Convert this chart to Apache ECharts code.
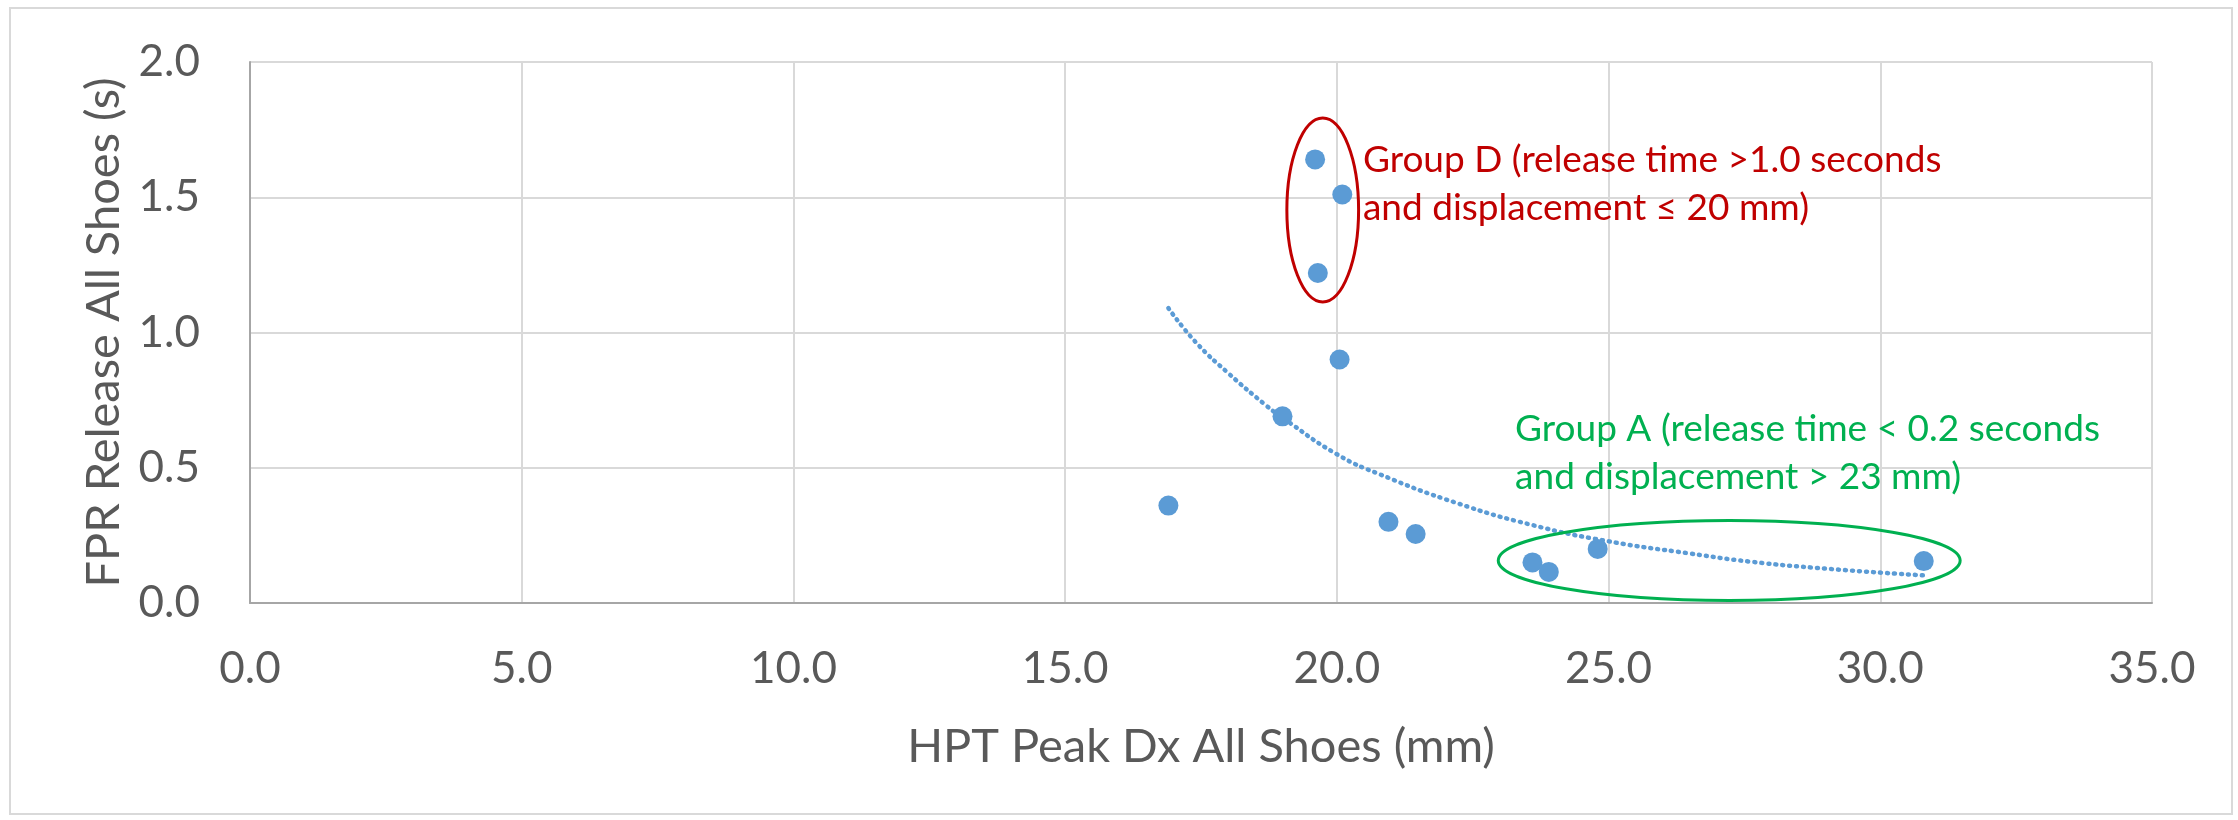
<!DOCTYPE html>
<html>
<head>
<meta charset="utf-8">
<script src="https://cdn.jsdelivr.net/npm/echarts@6/dist/echarts.min.js"></script>
<style>
  html, body { margin: 0; padding: 0; background: #fff; }
  #main { width: 2238px; height: 820px; }
</style>
</head>
<body>
<div id="main"></div>
<script>
// one point per shoe: HPT peak displacement (mm) vs FPR release time (s)
var dxAll      = [16.9, 19.0, 20.05, 19.6, 20.1, 19.65, 20.95, 21.45, 23.6, 23.9, 24.8, 30.8];
var releaseAll = [0.36, 0.69, 0.90, 1.64, 1.51, 1.22, 0.30, 0.255, 0.15, 0.115, 0.20, 0.155];

// dotted trendline
var trendX = [16.9, 17.4, 18.0, 18.7, 19.0, 20.0, 20.8, 22.2, 23.6, 25.0, 26.5, 27.6, 29.0, 30.8];
var trendY = [1.09, 0.965, 0.85, 0.73, 0.685, 0.55, 0.475, 0.37, 0.288, 0.228, 0.183, 0.153, 0.127, 0.102];

// axis ticks
var xTicks = [0, 5, 10, 15, 20, 25, 30, 35];
var yTicks = [0, 0.5, 1.0, 1.5, 2.0];

var groupD = ['Group D (release time >1.0 seconds', 'and displacement \u2264 20 mm)'];
var groupA = ['Group A (release time < 0.2 seconds', 'and displacement > 23 mm)'];

var font = 'Lato, "Open Sans", sans-serif';
var grey = '#595959';
var blue = '#5B9BD5';
var red = '#C00000';
var green = '#00B050';

var points = dxAll.map(function (x, i) { return [x, releaseAll[i]]; });
var trend = trendX.map(function (x, i) { return [x, trendY[i]]; });

var chart = echarts.init(document.getElementById('main'));

chart.setOption({
    animation: false,
    backgroundColor: '#fff',
    grid: { left: 250, right: 86, top: 62, bottom: 217 },
    xAxis: {
        type: 'value',
        min: xTicks[0],
        max: xTicks[xTicks.length - 1],
        interval: xTicks[1] - xTicks[0],
        name: 'HPT Peak Dx All Shoes (mm)',
        nameLocation: 'middle',
        nameGap: 120,
        nameTextStyle: { fontFamily: font, fontSize: 47, color: grey },
        axisLine: { lineStyle: { color: '#a6a6a6', width: 2 } },
        axisTick: { show: false },
        axisLabel: {
            margin: 44,
            fontFamily: font, fontSize: 44, color: grey,
            formatter: function (v) { return v.toFixed(1); }
        },
        splitLine: { show: true, lineStyle: { color: '#d9d9d9', width: 2 } }
    },
    yAxis: {
        type: 'value',
        min: yTicks[0],
        max: yTicks[yTicks.length - 1],
        interval: yTicks[1] - yTicks[0],
        name: 'FPR Release All Shoes (s)',
        nameLocation: 'middle',
        nameGap: 117,
        nameTextStyle: { fontFamily: font, fontSize: 47, color: grey },
        axisLine: { show: true, lineStyle: { color: '#a6a6a6', width: 2 } },
        axisTick: { show: false },
        axisLabel: {
            margin: 50,
            fontFamily: font, fontSize: 44, color: grey,
            formatter: function (v) { return v.toFixed(1); }
        },
        splitLine: { show: true, lineStyle: { color: '#d9d9d9', width: 2 } }
    },
    series: [
        {
            name: 'trend',
            type: 'line',
            data: trend,
            smooth: true,
            symbol: 'none',
            z: 2,
            lineStyle: { color: blue, width: 4.5, type: [1, 6], cap: 'round' }
        },
        {
            name: 'shoes',
            type: 'scatter',
            data: points,
            symbolSize: 20,
            z: 3,
            itemStyle: { color: blue, opacity: 1 }
        }
    ]
});

// annotation ovals and notes, placed in data space
function oval(cx, cy, rx, ry, color) {
    var c = chart.convertToPixel({ gridIndex: 0 }, [cx, cy]);
    var e = chart.convertToPixel({ gridIndex: 0 }, [cx + rx, cy + ry]);
    return {
        type: 'ellipse',
        shape: { cx: c[0], cy: c[1], rx: e[0] - c[0], ry: c[1] - e[1] },
        style: { fill: null, stroke: color, lineWidth: 3 },
        z: 10
    };
}

function note(x, y, lines, color) {
    var p = chart.convertToPixel({ gridIndex: 0 }, [x, y]);
    return {
        type: 'text',
        x: p[0],
        y: p[1],
        z: 10,
        style: {
            text: lines.join('\n'),
            fill: color,
            font: '37px ' + font,
            lineHeight: 48,
            textVerticalAlign: 'top'
        }
    };
}

chart.setOption({
    graphic: [
        {
            type: 'rect',
            shape: { x: 10, y: 8, width: 2222, height: 806 },
            style: { fill: null, stroke: '#d9d9d9', lineWidth: 2 },
            z: 0
        },
        oval(19.74, 1.453, 0.66, 0.34, red),
        oval(27.22, 0.157, 4.25, 0.148, green),
        note(20.48, 1.725, groupD, red),
        note(23.28, 0.73, groupA, green)
    ]
});
</script>
</body>
</html>
